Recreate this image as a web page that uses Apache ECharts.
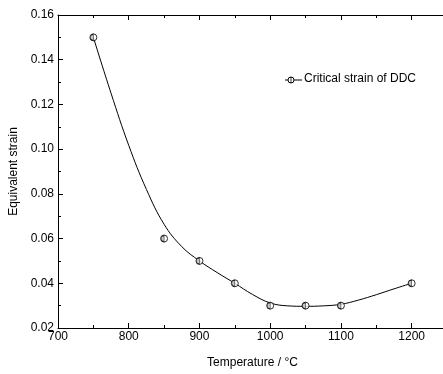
<!DOCTYPE html>
<html><head><meta charset="utf-8">
<script src="https://cdn.jsdelivr.net/npm/echarts@6/dist/echarts.min.js"></script>
<style>html,body{margin:0;padding:0;background:#fff}#c{width:443px;height:374px}</style>
</head><body><div id="c"></div>
<script>
var temps = [750, 850, 900, 950, 1000, 1050, 1100, 1200];
var strains = [0.150, 0.060, 0.050, 0.040, 0.030, 0.030, 0.030, 0.040];
var fitTemps = [750, 775, 800, 825, 850, 875, 900, 925, 950, 975, 1000, 1025, 1050, 1075, 1100, 1125, 1150, 1175, 1200];
var fitStrains = [0.150, 0.125, 0.1017, 0.082, 0.0664, 0.0564, 0.050, 0.0448, 0.040, 0.0350, 0.0312, 0.0299, 0.0297, 0.0299, 0.0306, 0.0325, 0.0349, 0.0375, 0.040];
var xTicks = [700, 800, 900, 1000, 1100, 1200];
var yTicks = [0.02, 0.04, 0.06, 0.08, 0.10, 0.12, 0.14, 0.16];
var seriesName = 'Critical strain of DDC';

var pts = temps.map(function(t, i){ return [t, strains[i]]; });
var fit = fitTemps.map(function(t, i){ return [t, fitStrains[i]]; });
var font = 'Liberation Sans, Arial, sans-serif';
var chart = echarts.init(document.getElementById('c'), null, {renderer: 'canvas'});
var axisCommon = {
  axisLine: {show: true, lineStyle: {color: '#000', width: 1}},
  axisTick: {show: true, inside: true, length: 5, lineStyle: {color: '#000'}},
  minorTick: {show: true, splitNumber: 2, length: 3, lineStyle: {color: '#000'}},
  splitLine: {show: false}
};
chart.setOption({
  animation: false,
  backgroundColor: '#fff',
  grid: {left: 58, top: 15, width: 389, height: 313, containLabel: false, outerBoundsMode: 'none'},
  xAxis: [
    Object.assign({type: 'value', min: 700, max: 1250, interval: 100,
      name: 'Temperature / °C', nameLocation: 'middle', nameGap: 29,
      nameTextStyle: {color: '#000', fontFamily: font, fontSize: 12},
      axisLabel: {color: '#000', fontFamily: font, fontSize: 12, margin: 3,
        formatter: function(v){ return xTicks.indexOf(v) >= 0 ? String(v) : ''; }}
    }, axisCommon),
    Object.assign({type: 'value', position: 'top', min: 700, max: 1250, interval: 100,
      axisLabel: {show: false}}, axisCommon)
  ],
  yAxis: [
    Object.assign({type: 'value', min: 0.02, max: 0.16, interval: 0.02,
      name: 'Equivalent strain', nameLocation: 'middle', nameGap: 31,
      nameTextStyle: {color: '#000', fontFamily: font, fontSize: 12},
      axisLabel: {color: '#000', fontFamily: font, fontSize: 12, margin: 4,
        formatter: function(v){
          for (var i = 0; i < yTicks.length; i++) if (Math.abs(yTicks[i] - v) < 1e-9) return yTicks[i].toFixed(2);
          return '';
        }}
    }, axisCommon)
  ],
  series: [
    {type: 'line', name: 'fit', data: fit, smooth: 0.4, showSymbol: false, symbol: 'none',
      lineStyle: {color: '#000', width: 1}, z: 2},
    {type: 'scatter', name: seriesName, data: pts, symbol: 'circle', symbolSize: 7,
      itemStyle: {color: '#fff', borderColor: '#000', borderWidth: 1}, z: 3},
    {type: 'scatter', name: 'half', data: pts, symbol: 'path://M5,0 A5,5 0 0,0 5,10 Z', symbolSize: [3, 6], symbolOffset: [-1.5, 0],
      itemStyle: {color: '#bbb', borderColor: '#000', borderWidth: 0.8}, z: 4}
  ],
  graphic: [
    {type: 'line', shape: {x1: 285, y1: 80, x2: 302, y2: 80}, style: {stroke: '#000', lineWidth: 1}},
    {type: 'circle', shape: {cx: 291, cy: 80, r: 3}, style: {fill: '#fff', stroke: '#000', lineWidth: 1}},
    {type: 'line', shape: {x1: 291, y1: 77, x2: 291, y2: 83}, style: {stroke: '#000', lineWidth: 0.8}},
    {type: 'text', left: 304, top: 73, style: {text: seriesName, fill: '#000', font: '12px ' + font}}
  ]
});
</script></body></html>
